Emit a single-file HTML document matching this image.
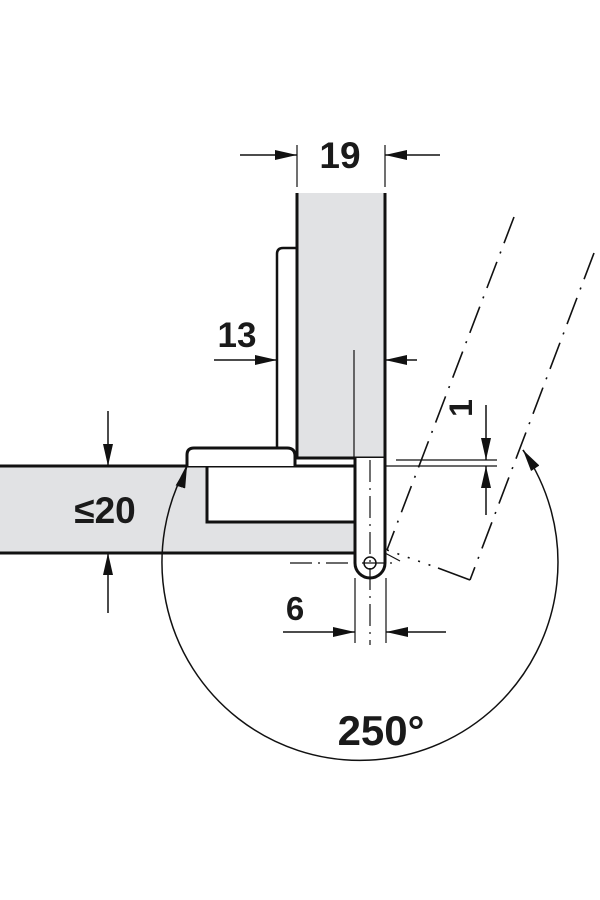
<!DOCTYPE html>
<html><head><meta charset="utf-8"><style>
html,body{margin:0;padding:0;background:#fff}
svg{display:block}
text{font-family:"Liberation Sans",Arial,sans-serif;font-weight:bold;fill:#1a1a1a}
</style></head><body>
<svg width="600" height="900" viewBox="0 0 600 900" xmlns="http://www.w3.org/2000/svg">
<defs>
<marker id="a" viewBox="0 0 22 10" refX="22" refY="5" markerWidth="22" markerHeight="10" markerUnits="userSpaceOnUse" orient="auto"><path d="M0,0 L22,5 L0,10 z" fill="#111"/></marker>
</defs>
<g stroke="#111" fill="none">
<path d="M0,466 H355 V553 H0 z" fill="#e1e2e4" stroke="none"/>
<path d="M0,466 H355 M0,553 H355" stroke-width="3"/>
<path d="M207,466 V522 H355 V466 z" fill="#fff" stroke-width="3"/>
<rect x="297" y="193" width="88" height="265" fill="#e1e2e4" stroke="none"/>
<path d="M297,193 V458 H385 V193" stroke-width="3"/>
<path d="M277,448 V254 Q277,248 283,248 H297" stroke-width="2.5"/>
<path d="M187,466 V455 Q187,448 194,448 H287 Q295,448 295,456 V466" stroke-width="3" fill="#fff"/>
<path d="M355,458 V563 A15,15 0 0 0 385,563 V458" stroke-width="3" fill="#fff"/>
<circle cx="370" cy="563" r="6" stroke-width="1.5"/>
<path d="M370,460 V645" stroke-width="1.2" stroke-dasharray="22,6,2,6"/>
<path d="M290,563 H395" stroke-width="1.2" stroke-dasharray="22,6,2,6"/>
<path d="M396,460 H497 M385,466 H497" stroke-width="1.2"/>
<path d="M354,350 V458" stroke-width="1.2"/>
<path d="M514,217 L387,550" stroke-width="1.6" stroke-dasharray="28,9,2,9"/>
<path d="M594,253 L470,580" stroke-width="1.6" stroke-dasharray="28,9,2,9"/>
<path d="M387,550 L438,568" stroke-width="1.6" stroke-dasharray="2,9"/>
<path d="M438,568 L470,580" stroke-width="1.6"/>
<path d="M385,553 L400,561" stroke-width="1.2"/>
<path d="M523,450 A198,198 0 1 1 187,466" stroke-width="1.5"/>
<path d="M535,468 L523,450" stroke-width="1.5" marker-end="url(#a)"/>
<path d="M181,485 L187,466" stroke-width="1.5" marker-end="url(#a)"/>
<path d="M297,145 V187 M385,145 V187" stroke-width="1.2"/>
<path d="M240,155 H297" stroke-width="1.5" marker-end="url(#a)"/>
<path d="M440,155 H385" stroke-width="1.5" marker-end="url(#a)"/>
<path d="M214,360 H277" stroke-width="1.5" marker-end="url(#a)"/>
<path d="M417,360 H385" stroke-width="1.5" marker-end="url(#a)"/>
<path d="M108,411 V466" stroke-width="1.5" marker-end="url(#a)"/>
<path d="M108,613 V553" stroke-width="1.5" marker-end="url(#a)"/>
<path d="M486,405 V460" stroke-width="1.5" marker-end="url(#a)"/>
<path d="M486,515 V466" stroke-width="1.5" marker-end="url(#a)"/>
<path d="M355,578 V643 M386,578 V643" stroke-width="1.2"/>
<path d="M283,632 H355" stroke-width="1.5" marker-end="url(#a)"/>
<path d="M446,632 H386" stroke-width="1.5" marker-end="url(#a)"/>
</g>
<text x="340" y="168" font-size="37" text-anchor="middle">19</text>
<text x="237" y="347" font-size="35" text-anchor="middle">13</text>
<text x="105" y="523" font-size="37" text-anchor="middle">≤20</text>
<text x="295" y="620" font-size="33" text-anchor="middle">6</text>
<text x="381" y="745" font-size="42" text-anchor="middle">250°</text>
<text x="0" y="0" font-size="32" text-anchor="middle" transform="translate(472,408) rotate(-90)">1</text>
</svg>
</body></html>
